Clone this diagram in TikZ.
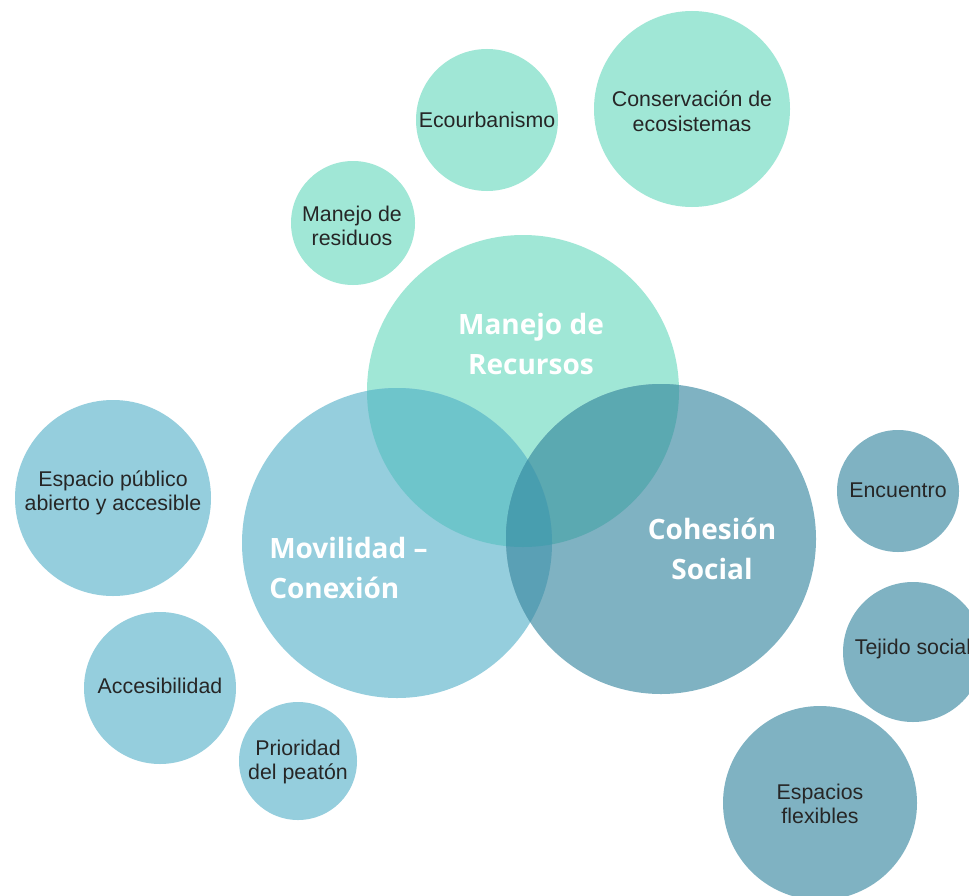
\documentclass[tikz,border=0pt]{standalone}
\usepackage{fontspec}
\setmainfont{Liberation Sans}
\newfontfamily\bigf{Open Sans}
\definecolor{mint}{HTML}{A0E7D6}
\definecolor{lblue}{HTML}{95CEDD}
\definecolor{teal2}{HTML}{7FB2C2}
\definecolor{mv}{HTML}{6EC5CB}
\definecolor{mc}{HTML}{5BA9B1}
\definecolor{vc}{HTML}{5AA0B5}
\definecolor{mvc}{HTML}{489EAF}
\definecolor{txt}{HTML}{262626}
\tikzset{
  bub/.style={circle, minimum size=#1*1.5pt, inner sep=0pt, outer sep=0pt, draw=none},
  small/.style={text=txt, align=center, font=\fontsize{16}{18.5}\selectfont, inner sep=0pt},
  big/.style={text=white, font=\bigf\bfseries\fontsize{21}{30}\selectfont, inner sep=0pt},
}
\begin{document}
\begin{tikzpicture}[x=0.75pt,y=-0.75pt]
\clip (0,0) rectangle (969,895);
\fill[white] (0,0) rectangle (969,895);
% small mint bubbles
\node[bub=98, fill=mint] (cons) at (692,109) {};
\node[bub=71, fill=mint] (eco) at (487,120) {};
\node[bub=62, fill=mint] (res) at (353,223) {};
% small blue bubbles
\node[bub=98, fill=lblue] (esp) at (113,498) {};
\node[bub=76, fill=lblue] (acc) at (160,688) {};
\node[bub=59, fill=lblue] (pri) at (298,761) {};
% small teal bubbles
\node[bub=61, fill=teal2] (enc) at (898,491) {};
\node[bub=70, fill=teal2] (tej) at (913,652) {};
\node[bub=97, fill=teal2] (flex) at (820,803) {};
% big circles
\node[bub=156, fill=mint] (M) at (523,391) {};
\node[bub=155, fill=lblue] (V) at (397,543) {};
\node[bub=155, fill=teal2] (C) at (661,539) {};
% overlaps
\begin{scope}
  \clip (M.center) circle[radius=156];
  \fill[mv] (V.center) circle[radius=155];
  \fill[mc] (C.center) circle[radius=155];
\end{scope}
\begin{scope}
  \clip (V.center) circle[radius=155];
  \fill[vc] (C.center) circle[radius=155];
  \clip (C.center) circle[radius=155];
  \fill[mvc] (M.center) circle[radius=156];
\end{scope}
% big labels
\node[big, align=center] (Mt) at (531,344) {Manejo de\\Recursos};
\node[big, align=left, anchor=west] (Vt) at (269,568) {Movilidad –\\Conexión};
\node[big, align=center] (Ct) at (712,549) {Cohesión\\Social};
% small labels
\node[small] (ecot) at (eco.center) {Ecourbanismo};
\node[small] (const) at (692,111) {Conservación de\\ecosistemas};
\node[small] (rest) at (352,226) {Manejo de\\residuos};
\node[small] (espt) at (113,493) {Espacio público\\abierto y accesible};
\node[small] (acct) at (160,686) {Accesibilidad};
\node[small] (prit) at (298,762) {Prioridad\\del peatón};
\node[small] (enct) at (898,490) {Encuentro};
\node[small] (tejt) at (913,649) {Tejido social};
\node[small] (flext) at (820,804) {Espacios\\flexibles};
\end{tikzpicture}
\end{document}
